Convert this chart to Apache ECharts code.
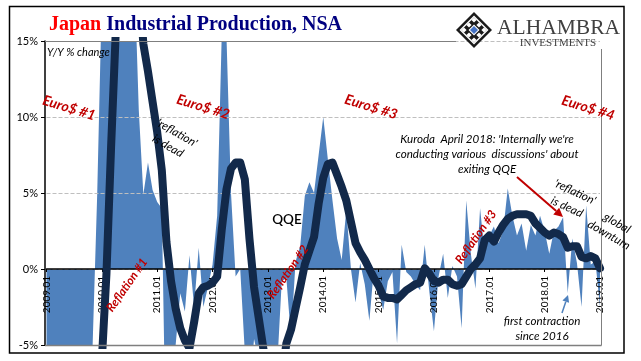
<!DOCTYPE html>
<html>
<head>
<meta charset="utf-8">
<style>html,body{margin:0;padding:0;background:#fff}</style>
<script src="https://cdn.jsdelivr.net/npm/echarts@6/dist/echarts.min.js"></script>
</head>
<body>
<div id="chart" style="width:641px;height:361px"></div>
<script>
// 2009.01 .. 2019.01, monthly
const years = [2009, 2010, 2011, 2012, 2013, 2014, 2015, 2016, 2017, 2018, 2019]
const categories = []
years.forEach((y) => {
  for (let m = 1; m <= 12; m++) {
    if (y === 2019 && m > 1) break
    categories.push(y + '.' + (m < 10 ? '0' + m : m))
  }
})

const yTicks = [-5, 0, 5, 10, 15]

// y/y % change, values off the chart are rough
const ipYoY = [
  -30, -37, -34, -31, -29, -27, -23, -20, -18, -15, -5, 5,
  18, 31, 31, 26, 20, 17, 15.2, 20, 10.5, 4.9, 7, 5.2,
  4.4, 4, -14, -14, -5, -1.6, -2.8, 0.9, -2.5, 1.4, -2.5, -1.2,
  0.3, 3.5, 15.5, 15.5, 5, -0.5, 0, -5.5, -8, -4.6, -6, -8,
  -6, -7, -6.5, -0.8, -0.6, -4.5, 0.5, 1.5, 4.8, 5.7, 5, 7.5,
  10, 7.2, 4.5, 2, 0.6, 3.9, 0, -2.2, 0.4, -1, -3.4, 0.1,
  -1.5, -2.7, -0.8, -0.2, -4.9, 1.6, -0.2, -0.5, -1, -1.4, 1.6, -1.5,
  -4.1, -0.5, 1, -1.9, 0.2, -0.5, -3.9, 4.5, 1, -1.3, 4, 1,
  2.2, 2.8, 1.7, 2.5, 5.3, 3.5, 2.2, 3, 1.2, 2.9, 2.2, 3.5,
  2.5, 1, 2.5, 2.8, 3.4, -1.6, 2, 0.4, -2.5, 4.2, 0.3, 0.5,
  -2.5,
]

// the heavy smoothed line
const ipSmooth = [
  -28, -30, -31, -30, -29, -27, -25, -23, -20, -18, -15, -11,
  -6, -0.3, 8, 15.5, 20, 24, 26, 24, 19, 14.8, 13, 11,
  9, 6.5, 1.8, -0.8, -2.6, -3.9, -4.7, -5.2, -3.5, -1.6, -1.2, -1.1,
  -0.9, -0.5, 2.6, 5.2, 6.6, 7, 7, 5.9, 2, -1.2, -3.2, -5.2,
  -7, -8, -8, -7.2, -4.9, -4, -2.6, -1.2, 0.3, 1.2, 2.1, 4.3,
  6, 6.9, 7, 6.2, 5.4, 4.5, 3.1, 1.7, 1.1, 0.6, 0, -0.6,
  -1.1, -1.8, -1.9, -1.9, -2, -1.7, -1.4, -1.2, -1, -0.9, 0.05, -0.3,
  -0.8, -0.9, -0.7, -0.7, -1, -1.1, -1, -0.5, 0, 0.3, 0.7, 1.9,
  2.2, 1.8, 2.4, 2.9, 3.3, 3.5, 3.6, 3.6, 3.6, 3.5, 3, 2.7,
  2.4, 2.2, 2.4, 2.3, 2.1, 1.4, 1.5, 1.5, 0.8, 0.7, 0.85, 0.7,
  0.05,
]

const uiFont = 'Lato, "Open Sans", sans-serif'
const darkRed = '#C00000'
const areaBlue = '#4F81BD'

function deg(d) {
  return (-d * Math.PI) / 180
}

// centred text, angle in degrees clockwise
function note(text, x, y, angle, opts) {
  return {
    type: 'text',
    x: x,
    y: y,
    rotation: deg(angle),
    z: 100,
    style: Object.assign(
      {
        text: text,
        align: 'center',
        verticalAlign: 'middle',
        fill: '#000',
        font: 'italic 11.6px ' + uiFont,
      },
      opts
    ),
  }
}

function redBold(text, x, y, angle, size) {
  return note(text, x, y, angle, { fill: darkRed, font: 'italic bold ' + (size || 14) + 'px ' + uiFont })
}

function rule(x1, y1, x2, y2, color, width) {
  return {
    type: 'line',
    z: 100,
    shape: { x1: x1, y1: y1, x2: x2, y2: y2 },
    style: { stroke: color, lineWidth: width },
  }
}

function arrow(x1, y1, x2, y2, color, width, size) {
  const a = Math.atan2(y2 - y1, x2 - x1)
  const bx = x2 - Math.cos(a) * size
  const by = y2 - Math.sin(a) * size
  const nx = Math.sin(a) * size * 0.5
  const ny = Math.cos(a) * size * 0.5
  return [
    rule(x1, y1, bx, by, color, width),
    {
      type: 'polygon',
      z: 100,
      shape: { points: [[x2, y2], [bx + nx, by - ny], [bx - nx, by + ny]] },
      style: { fill: color },
    },
  ]
}

function diamond(cx, cy, r, fill) {
  return {
    type: 'polygon',
    z: 101,
    shape: { points: [[cx, cy - r], [cx + r, cy], [cx, cy + r], [cx - r, cy]] },
    style: { fill: fill },
  }
}

// logo mark, rough lattice
const logoX = 474
const logoY = 30
const logoMark = [diamond(logoX, logoY, 18, '#1a1a1a'), diamond(logoX, logoY, 14.5, '#fff'), diamond(logoX, logoY, 12.5, '#1a1a1a')]
;[[0, -10], [10, 0], [0, 10], [-10, 0], [5, -5], [5, 5], [-5, 5], [-5, -5]].forEach((p) => {
  logoMark.push(diamond(logoX + p[0], logoY + p[1], 2.6, '#fff'))
})
logoMark.push(diamond(logoX, logoY, 5.5, '#fff'))
logoMark.push(diamond(logoX, logoY, 4, '#4472C4'))

const chart = echarts.init(document.getElementById('chart'))
chart.setOption({
  animation: false,
  backgroundColor: '#fff',
  grid: { left: 46.5, right: 41, top: 41, bottom: 16, outerBoundsMode: 'none' },
  title: {
    left: 44,
    top: 10,
    text: '{a|Japan} {b|Industrial Production, NSA}',
    textStyle: {
      rich: {
        a: { color: '#FF0000', fontFamily: '"Liberation Serif", serif', fontWeight: 'bold', fontSize: 20 },
        b: { color: '#000080', fontFamily: '"Liberation Serif", serif', fontSize: 20 },
      },
    },
  },
  xAxis: {
    type: 'category',
    boundaryGap: false,
    data: categories,
    z: 3,
    axisLine: { onZero: true, lineStyle: { color: '#000', width: 1.5 } },
    axisTick: { show: true, interval: 11, length: 3, lineStyle: { color: '#000' } },
    axisLabel: {
      interval: 11,
      rotate: 90,
      // labels sit under the zero line, not at the plot bottom
      margin: -69,
      color: '#000',
      fontFamily: uiFont,
      fontSize: 10,
      hideOverlap: false,
      showMaxLabel: true,
    },
    splitLine: { show: false },
  },
  yAxis: {
    type: 'value',
    min: yTicks[0],
    max: yTicks[yTicks.length - 1],
    interval: 5,
    offset: 1.5,
    z: 3,
    axisLine: { show: true, lineStyle: { color: '#000', width: 1.5 } },
    axisTick: { show: true, length: 4, lineStyle: { color: '#000' } },
    axisLabel: {
      formatter: '{value}%',
      color: '#000',
      fontFamily: uiFont,
      fontSize: 11,
      margin: 7,
    },
    splitLine: { show: true, lineStyle: { color: '#BFBFBF', type: 'dashed', width: 1 } },
  },
  series: [
    {
      name: 'Y/Y',
      type: 'line',
      data: ipYoY,
      z: 1,
      symbol: 'none',
      clip: true,
      lineStyle: { width: 0 },
      areaStyle: { color: areaBlue, opacity: 1 },
    },
    {
      name: 'smoothed',
      type: 'line',
      data: ipSmooth,
      z: 4,
      symbol: 'none',
      clip: true,
      lineStyle: { color: '#12294A', width: 8, cap: 'round', join: 'round' },
    },
  ],
  graphic: [
    // outer frame and plot edges
    {
      type: 'rect',
      z: 100,
      shape: { x: 9.5, y: 6.5, width: 614.5, height: 346.5 },
      style: { fill: 'none', stroke: '#000', lineWidth: 1.5 },
    },
    rule(45, 41.5, 456, 41.5, '#7F7F7F', 1),
    rule(45, 345.5, 601.5, 345.5, '#7F7F7F', 1.5),
    rule(601.5, 49, 601.5, 345.5, '#7F7F7F', 1),

    // logo
    ...logoMark,
    {
      type: 'text',
      x: 497,
      y: 28,
      z: 101,
      style: { text: 'ALHAMBRA', fill: '#404040', font: '21.5px "Liberation Serif", serif', align: 'left', verticalAlign: 'middle' },
    },
    {
      type: 'text',
      x: 558,
      y: 43,
      z: 101,
      style: { text: 'INVESTMENTS', fill: '#404040', font: '11px "Liberation Serif", serif', align: 'center', verticalAlign: 'middle' },
    },

    note('Y/Y % change', 47, 52, 0, { align: 'left', font: 'italic 11px ' + uiFont }),

    redBold('Euro$ #1', 69, 108, 17),
    redBold('Euro$ #2', 203, 107, 17),
    redBold('Euro$ #3', 371, 107, 17),
    redBold('Euro$ #4', 588, 108, 17),

    redBold('Reflation #1', 127, 285, -55, 12),
    redBold('Reflation #2', 288, 272, -55, 12),
    redBold('Reflation #3', 476, 237, -55, 12),

    note("'reflation'", 177, 133, 30),
    note('is dead', 168, 146, 30),
    note('QQE', 287, 220, 0, { font: '600 13.5px ' + uiFont }),

    note('Kuroda  April 2018: \'Internally we\'re', 487, 139, 0),
    note("conducting various  discussions' about", 487, 154, 0),
    note('exiting QQE', 487, 169, 0),
    ...arrow(517, 177, 563, 217, darkRed, 2, 9),

    note("'reflation'", 575, 192, 25),
    note('is dead', 567, 207, 25),
    note('global', 617, 223, 30),
    note('downturn', 609, 235, 30),

    ...arrow(562, 313, 568, 295, areaBlue, 1.5, 7),
    note('first contraction', 542, 321, 0),
    note('since 2016', 542, 336, 0),
  ],
})
</script>
</body>
</html>
